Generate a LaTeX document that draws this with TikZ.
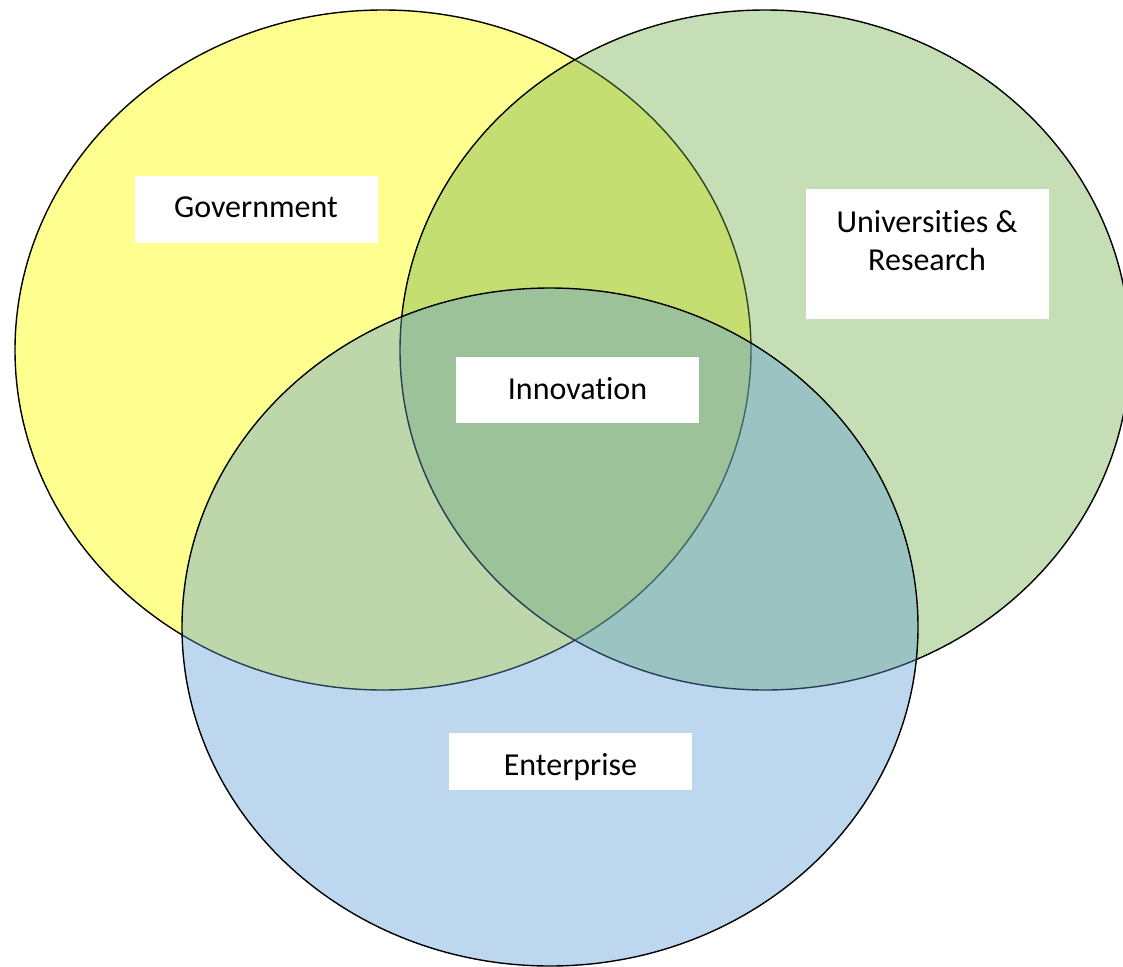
\documentclass[tikz,border=0pt]{standalone}
\usepackage{fontspec}
\setmainfont{Carlito}[Ligatures={NoCommon}]
\usepackage{tikz}
\definecolor{govyellow}{RGB}{255,255,0}
\definecolor{unigreen}{RGB}{112,173,71}
\definecolor{entblue}{RGB}{91,155,213}

\begin{document}
\begin{tikzpicture}
[x=1pt,y=-1pt,
 set/.style={draw=black,line width=1.4pt,fill opacity=.4},
 box/.style={fill=white,minimum width=243pt,inner sep=0pt},
 word/.style={anchor=base,inner sep=0pt,font=\fontsize{32}{38}\selectfont}]
\useasboundingbox (0,0) rectangle (1123,966);
\clip (0,0) rectangle (1123,966);

\draw[set,fill=govyellow,fill opacity=.44] (383,350) ellipse [x radius=368pt,y radius=340pt];
\draw[set,fill=unigreen] (765,350) ellipse [x radius=365pt,y radius=340pt];
\draw[set,fill=entblue] (550,627) ellipse [x radius=368pt,y radius=339pt];

\node[box,minimum height=67pt] (gov) at (256,209.5) {};
\node[word] (govtext) at (256,217) {Government};

\node[box,minimum height=130pt] (uni) at (927,254) {};
\node[word] (unitop) at (927,232) {Universities \&};
\node[word] (unibot) at (927,270) {Research};

\node[box,minimum height=66pt] (inno) at (577.5,390) {};
\node[word] (innotext) at (577.5,399) {Innovation};

\node[box,minimum height=57pt] (ent) at (570.5,761.5) {};
\node[word] (enttext) at (570.5,775) {Enterprise};
\end{tikzpicture}
\end{document}
